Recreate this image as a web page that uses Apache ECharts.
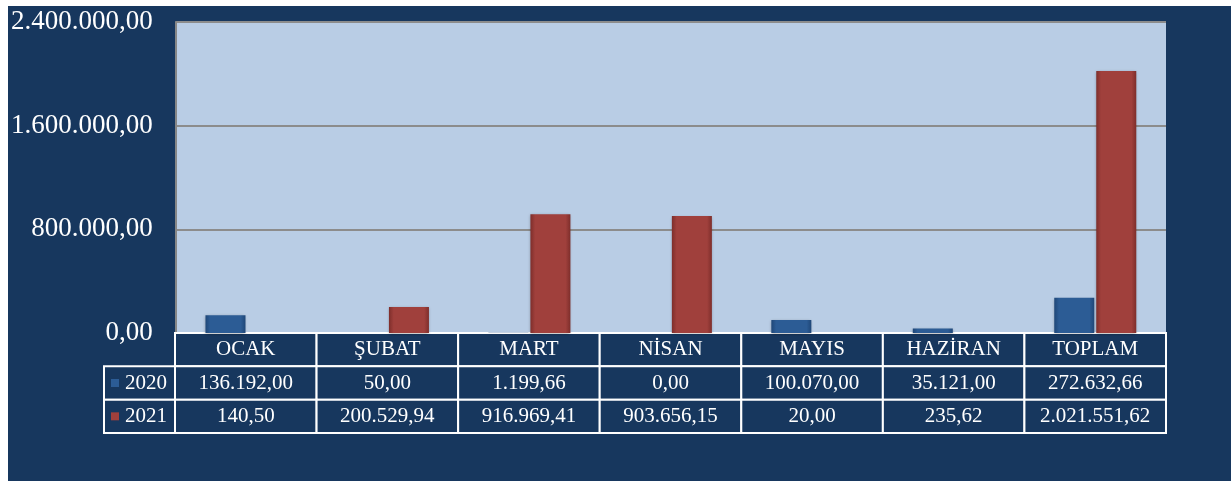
<!DOCTYPE html>
<html>
<head>
<meta charset="utf-8">
<script src="https://cdn.jsdelivr.net/npm/echarts@6/dist/echarts.min.js"></script>
<style>
  html, body { margin: 0; padding: 0; background: #ffffff; }
  #chart { position: absolute; left: 8px; top: 6px; width: 1223px; height: 475px; }
</style>
</head>
<body>
<div id="chart"></div>
<script>
var categories = ['OCAK', 'ŞUBAT', 'MART', 'NİSAN', 'MAYIS', 'HAZİRAN', 'TOPLAM'];
var seriesNames = ['2020', '2021'];
var values2020 = [136192.00, 50.00, 1199.66, 0.00, 100070.00, 35121.00, 272632.66];
var values2021 = [140.50, 200529.94, 916969.41, 903656.15, 20.00, 235.62, 2021551.62];
var yTicks = [0, 800000, 1600000, 2400000];

// turkish number format: 2.400.000,00
function fmt(v) {
  var parts = Math.abs(v).toFixed(2).split('.');
  var int = parts[0].replace(/\B(?=(\d{3})+(?!\d))/g, '.');
  return (v < 0 ? '-' : '') + int + ',' + parts[1];
}

var FONT = '"Liberation Serif", "Times New Roman", serif';
var NAVY = '#17375E';

var blueFill = new echarts.graphic.LinearGradient(0, 0, 1, 0, [
  { offset: 0, color: '#1F4778' },
  { offset: 0.12, color: '#2C5C95' },
  { offset: 0.88, color: '#2C5C95' },
  { offset: 1, color: '#1F4778' }
]);
var redFill = new echarts.graphic.LinearGradient(0, 0, 1, 0, [
  { offset: 0, color: '#7E2E2B' },
  { offset: 0.12, color: '#A0403C' },
  { offset: 0.88, color: '#A0403C' },
  { offset: 1, color: '#7E2E2B' }
]);
var seriesColors = [blueFill, redFill];
var iconColors = ['#2C5C95', '#A0403C'];

// table cells built from the arrays
var rows = [categories, values2020.map(fmt), values2021.map(fmt)];
var cells = [];
rows.forEach(function (row, r) {
  row.forEach(function (txt, c) {
    cells.push({ value: [c, r], text: txt, legend: -1 });
  });
});
seriesNames.forEach(function (name, i) {
  cells.push({ value: [0, i + 1], text: name, legend: i });
});

var myChart = echarts.init(document.getElementById('chart'));

myChart.setOption({
  backgroundColor: NAVY,
  animation: false,
  grid: [{
    left: 167, top: 16, width: 991, height: 311,
    show: true, backgroundColor: '#B9CDE5', borderWidth: 0
  }, {
    left: 167, top: 327, width: 991, height: 100
  }],
  xAxis: [{
    type: 'category', gridIndex: 0, data: categories,
    axisLine: { show: false }, axisTick: { show: false }, axisLabel: { show: false }
  }, {
    type: 'category', gridIndex: 1, data: categories, show: false
  }],
  yAxis: [{
    type: 'value', gridIndex: 0,
    min: yTicks[0], max: yTicks[yTicks.length - 1], interval: yTicks[1] - yTicks[0],
    axisLine: { show: true, lineStyle: { color: '#868686', width: 2 } },
    axisTick: { show: false },
    splitLine: { show: true, lineStyle: { color: '#8C8C8C', width: 2 } },
    axisLabel: {
      color: '#ffffff', fontFamily: FONT, fontSize: 27, margin: 23,
      formatter: function (v) { return fmt(v); }
    }
  }, {
    type: 'category', gridIndex: 1, data: ['', seriesNames[0], seriesNames[1]],
    inverse: true, show: false
  }],
  series: [{
    name: seriesNames[0], type: 'bar', data: values2020,
    barWidth: 40, barGap: '5%',
    itemStyle: {
      color: seriesColors[0],
      shadowColor: 'rgba(0,0,0,0.3)', shadowBlur: 3, shadowOffsetY: 1
    }
  }, {
    name: seriesNames[1], type: 'bar', data: values2021,
    barWidth: 40, barGap: '5%',
    itemStyle: {
      color: seriesColors[1],
      shadowColor: 'rgba(0,0,0,0.3)', shadowBlur: 3, shadowOffsetY: 1
    }
  }, {
    type: 'custom', xAxisIndex: 1, yAxisIndex: 1,
    data: cells,
    renderItem: function (params, api) {
      var item = cells[params.dataIndex];
      var c = api.coord([api.value(0), api.value(1)]);
      var s = api.size([1, 1]);
      var x = c[0] - s[0] / 2, y = c[1] - s[1] / 2, w = s[0], h = s[1];
      if (item.legend >= 0) {
        w = 71; x = x - w;
        return {
          type: 'group',
          children: [{
            type: 'rect', shape: { x: x, y: y, width: w, height: h },
            style: { fill: NAVY, stroke: '#ffffff', lineWidth: 2 }
          }, {
            type: 'rect', shape: { x: x + 7, y: c[1] - 4, width: 8, height: 8 },
            style: { fill: iconColors[item.legend] }
          }, {
            type: 'text', x: x + 21, y: c[1],
            style: {
              text: item.text, fill: '#ffffff', font: '21px ' + FONT,
              align: 'left', verticalAlign: 'middle'
            }
          }]
        };
      }
      return {
        type: 'group',
        children: [{
          type: 'rect', shape: { x: x, y: y, width: w, height: h },
          style: { fill: NAVY, stroke: '#ffffff', lineWidth: 2 }
        }, {
          type: 'text', x: c[0], y: c[1],
          style: {
            text: item.text, fill: '#ffffff', font: '21px ' + FONT,
            align: 'center', verticalAlign: 'middle'
          }
        }]
      };
    }
  }]
});
</script>
</body>
</html>
